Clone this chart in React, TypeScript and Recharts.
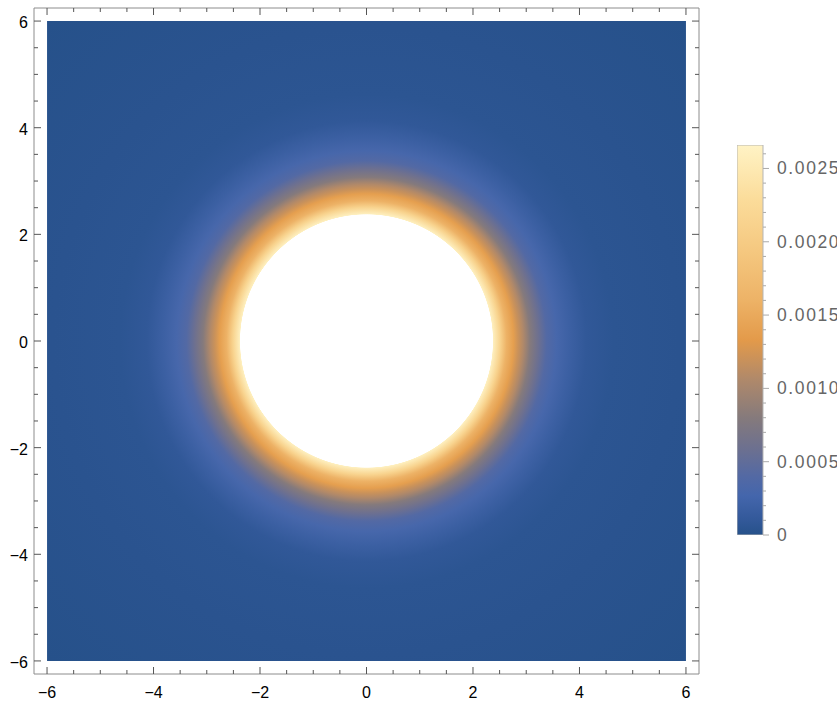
import React from 'react';
import { ComposedChart, Scatter, XAxis, YAxis, ReferenceArea, BarChart, Bar } from 'recharts';

// radial profile of the field: distance from origin and value
// (values above the colour range show as white)
const profileRadius = [0, 2.37, 2.38, 2.51, 2.63, 2.76, 2.85, 2.94, 3.07, 3.23, 3.38, 3.57, 3.82, 4.13, 4.63, 5.89, 8.49];
const profileValue = [0.004, 0.004, 0.0026, 0.00213, 0.0016, 0.00138, 0.0012, 0.00107, 0.0008, 0.00059, 0.0004, 0.00029, 0.00019, 0.00009, 0.00005, 0.00003, 0];
const centre = [{ x: 0, y: 0 }];

const axisTicks = [-6, -5.5, -5, -4.5, -4, -3.5, -3, -2.5, -2, -1.5, -1, -0.5, 0, 0.5, 1, 1.5, 2, 2.5, 3, 3.5, 4, 4.5, 5, 5.5, 6];
const majorTicks = [-6, -4, -2, 0, 2, 4, 6];
const majorLabels = ['\u22126', '\u22124', '\u22122', '0', '2', '4', '6'];

const cbMax = 0.00266;
const cbTicks = [0, 0.0001, 0.0002, 0.0003, 0.0004, 0.0005, 0.0006, 0.0007, 0.0008, 0.0009, 0.001, 0.0011, 0.0012, 0.0013, 0.0014, 0.0015, 0.0016, 0.0017, 0.0018, 0.0019, 0.002, 0.0021, 0.0022, 0.0023, 0.0024, 0.0025, 0.0026];
const cbMajor = [0, 0.0005, 0.001, 0.0015, 0.002, 0.0025];
const cbLabels = ['0', '0.0005', '0.0010', '0.0015', '0.0020', '0.0025'];

const gradStops: [number, string][] = [
  [0, '#26518a'], [0.04, '#33599a'], [0.1, '#4466ac'], [0.15, '#5369a4'],
  [0.22, '#6c7090'], [0.3, '#857a7c'], [0.4, '#b0896a'], [0.5, '#e39a4a'],
  [0.6, '#edb266'], [0.73, '#f5c880'], [0.86, '#fbdc9a'], [1, '#fff3c5'],
];

const DOM = 6.245;
const FONT = 'Liberation Sans, Arial, sans-serif';

function hexRgb(h: string) {
  return [1, 3, 5].map((i) => parseInt(h.slice(i, i + 2), 16));
}

function colorAt(t: number) {
  if (t > 1) return '#ffffff';
  if (t <= 0) return gradStops[0][1];
  for (let i = 1; i < gradStops.length; i++) {
    const [t1, c1] = gradStops[i];
    const [t0, c0] = gradStops[i - 1];
    if (t <= t1) {
      const f = (t - t0) / (t1 - t0);
      const a = hexRgb(c0), b = hexRgb(c1);
      const m = a.map((v, k) => Math.round(v + (b[k] - v) * f));
      return `rgb(${m[0]},${m[1]},${m[2]})`;
    }
  }
  return gradStops[gradStops.length - 1][1];
}

const isMajor = (v: number) => majorTicks.indexOf(v) >= 0;

const BottomTick = (p: any) => {
  const v = p.payload.value;
  const major = isMajor(v);
  return (
    <g>
      <line x1={p.x} x2={p.x} y1={p.y} y2={p.y - (major ? 7 : 4)} stroke="#555" />
      {major && (
        <text x={p.x} y={p.y + 24} textAnchor="middle" fontSize={16} fontFamily={FONT} fill="#000">
          {majorLabels[majorTicks.indexOf(v)]}
        </text>
      )}
    </g>
  );
};

const TopTick = (p: any) => (
  <line x1={p.x} x2={p.x} y1={p.y} y2={p.y + (isMajor(p.payload.value) ? 7 : 4)} stroke="#555" />
);

const LeftTick = (p: any) => {
  const v = p.payload.value;
  const major = isMajor(v);
  return (
    <g>
      <line x1={p.x} x2={p.x + (major ? 7 : 4)} y1={p.y} y2={p.y} stroke="#555" />
      {major && (
        <text x={p.x - 6} y={p.y + 7} textAnchor="end" fontSize={16} fontFamily={FONT} fill="#000">
          {majorLabels[majorTicks.indexOf(v)]}
        </text>
      )}
    </g>
  );
};

const RightTick = (p: any) => (
  <line x1={p.x} x2={p.x - (isMajor(p.payload.value) ? 7 : 4)} y1={p.y} y2={p.y} stroke="#555" />
);

const ColorTick = (p: any) => {
  const v = p.payload.value;
  const idx = cbMajor.findIndex((m) => Math.abs(m - v) < 1e-9);
  return (
    <g>
      <line x1={p.x} x2={p.x + (idx >= 0 ? 6 : 3)} y1={p.y} y2={p.y} stroke="#aaa" />
      {idx >= 0 && (
        <text x={p.x + 14} y={p.y + 6} fontSize={17.5} letterSpacing={1.6} fontFamily={FONT} fill="#666">
          {cbLabels[idx]}
        </text>
      )}
    </g>
  );
};

const cbData = [{ name: 'scale', v: cbMax }];
const axisProps = {
  type: 'number' as const,
  domain: [-DOM, DOM],
  allowDataOverflow: true,
  ticks: axisTicks,
  interval: 0,
  tickSize: 0,
  tickMargin: 0,
  tickLine: false,
  axisLine: { stroke: '#8c8c8c' },
};

export default function App() {
  return (
    <div style={{ position: 'absolute', left: 0, top: 0, width: 837, height: 704, background: '#fff' }}>
      <div style={{ position: 'absolute', left: 0, top: 0 }}>
        <ComposedChart width={837} height={704} margin={{ top: 7, right: 137, bottom: 0, left: 0 }}>
          <defs>
            <radialGradient id="field" cx="0.5" cy="0.5" r={8.49 / 12}>
              {profileRadius.map((r, i) => (
                <stop key={i} offset={r / 8.49} stopColor={colorAt(profileValue[i] / cbMax)} />
              ))}
            </radialGradient>
          </defs>
          <XAxis xAxisId="b" dataKey="x" orientation="bottom" height={30} tick={BottomTick} {...axisProps} />
          <XAxis xAxisId="t" dataKey="x" orientation="top" height={1} tick={TopTick} {...axisProps} />
          <YAxis yAxisId="l" dataKey="y" orientation="left" width={34} tick={LeftTick} {...axisProps} />
          <YAxis yAxisId="r" dataKey="y" orientation="right" width={1} tick={RightTick} {...axisProps} />
          <ReferenceArea xAxisId="b" yAxisId="l" x1={-6} x2={6} y1={-6} y2={6} fill="url(#field)" fillOpacity={1} stroke="none" ifOverflow="visible" />
          <Scatter xAxisId="b" yAxisId="l" data={centre} dataKey="y" shape={() => <g />} isAnimationActive={false} />
          <Scatter xAxisId="t" yAxisId="r" data={centre} dataKey="y" shape={() => <g />} isAnimationActive={false} />
        </ComposedChart>
      </div>
      <div style={{ position: 'absolute', left: 737, top: 140 }}>
        <BarChart width={100} height={415} data={cbData} margin={{ top: 5, right: 0, bottom: 20, left: 0 }} barCategoryGap={0}>
          <defs>
            <linearGradient id="cbGrad" x1="0" y1="1" x2="0" y2="0">
              {gradStops.map(([t, c], i) => (
                <stop key={i} offset={t} stopColor={c} />
              ))}
            </linearGradient>
          </defs>
          <XAxis dataKey="name" hide />
          <YAxis type="number" orientation="right" domain={[0, cbMax]} allowDataOverflow ticks={cbTicks} interval={0} width={74} tickSize={0} tickMargin={0} tickLine={false} axisLine={false} tick={ColorTick} />
          <Bar dataKey="v" fill="url(#cbGrad)" stroke="#b5b5b5" isAnimationActive={false} />
        </BarChart>
      </div>
    </div>
  );
}
